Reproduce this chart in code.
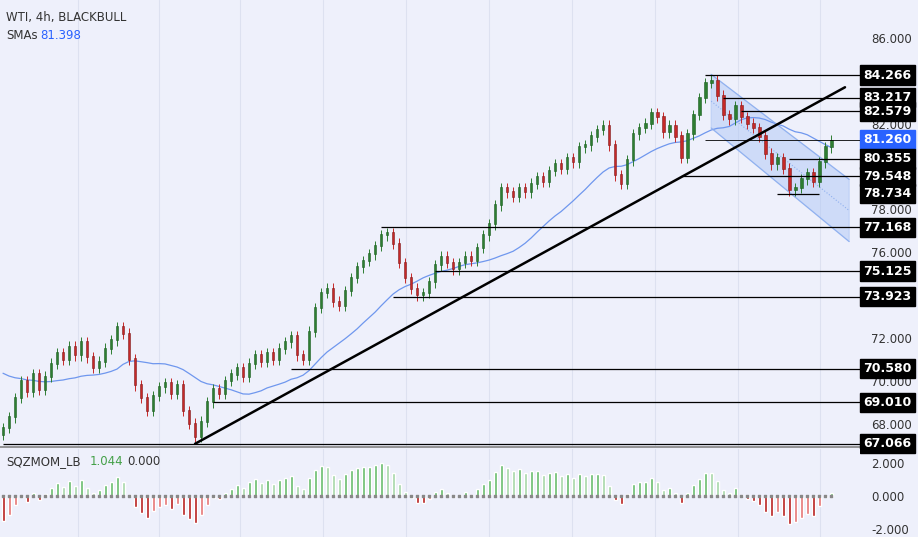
import numpy as np, pandas as pd, matplotlib
matplotlib.use("Agg")
import matplotlib.pyplot as plt, seaborn as sns
from matplotlib.transforms import blended_transform_factory as btf

closes = [67.8,68.3,69.2,70.0,69.5,70.3,69.6,70.2,70.8,71.3,71.0,71.6,71.2,71.8,71.1,70.6,70.9,71.5,71.9,72.5,
          72.2,71.0,69.8,69.2,68.6,69.3,69.7,69.9,69.4,69.8,68.6,68.0,67.4,68.1,69.0,69.6,69.4,70.0,70.3,70.6,
          70.2,70.8,71.2,70.9,71.3,71.0,71.5,71.8,72.1,71.2,71.0,72.3,73.4,74.1,74.3,73.7,73.5,74.2,74.8,75.3,
          75.6,75.9,76.3,76.8,76.9,76.4,75.5,74.8,74.3,74.0,74.1,74.6,75.4,75.8,75.5,75.2,75.5,75.8,75.6,76.2,
          76.8,77.3,78.2,79.0,78.8,78.6,79.0,78.8,79.2,79.5,79.3,79.8,80.1,79.9,80.4,80.2,80.9,81.0,81.4,81.7,
          81.9,81.0,79.6,79.2,80.3,81.5,81.8,82.0,82.5,82.3,81.6,81.9,81.4,80.4,81.5,82.4,83.2,83.9,84.0,83.3,
          82.4,82.2,82.8,82.3,82.0,81.8,81.4,80.6,80.1,80.4,79.9,78.9,79.0,79.4,79.7,79.3,80.2,80.9,81.2]
sma_prefix = [71.0,70.9,70.8,70.8,70.7,70.7,70.6,70.6,70.5,70.5,70.4,70.4,70.4,70.3,70.3,70.3,70.3,70.3,70.3,70.3]
levels = [84.266,83.217,82.579,81.260,80.355,79.548,78.734,77.168,75.125,73.923,70.580,69.010,67.066]
level_start = [117,120,123,117,131,113,129,63,72,65,48,35,0]
level_end = [142.8,142.8,142.8,142.8,142.8,142.8,136,142.8,142.8,142.8,142.8,142.8,142.8]
trend = ([32, 140.3], [67.07, 83.7])
chan_up = ([118, 141], [84.3, 79.4])
chan_lo = ([118, 141], [81.8, 76.5])
tick_vals = [68, 70, 72, 76, 78, 82, 86]
grid_x = [12.5, 26, 39.5, 53.3, 67.2, 81, 94.8, 108.6, 122.4, 136.2]

BG = "#eef0fb"
sns.set_theme(style="white")
plt.rcParams['font.family'] = ['DejaVu Sans']
fig = plt.figure(figsize=(9.18, 5.37), dpi=100, facecolor=BG)
ax = fig.add_axes([0, 90/537, 860/918, 447/537], facecolor=BG)
ax2 = fig.add_axes([0, 0, 860/918, 88/537], facecolor=BG)

n = len(closes)
idx = np.arange(n)
c = np.array(closes)
o = np.r_[c[0] - 0.3, c[:-1]]
hi = np.maximum(o, c) + 0.25
lo = np.minimum(o, c) - 0.25
up = c >= o
col = np.where(up, "#2e7d32", "#c62828")
ax.vlines(idx, lo, hi, colors=col, lw=0.7, zorder=3)
ax.bar(idx, np.abs(c - o) + 0.05, bottom=np.minimum(o, c), width=0.45, color=col,
       edgecolor=np.where(up, "#1b5e20", "#7f1d1d"), lw=0.4, zorder=4)

full = pd.Series(sma_prefix + closes)
sma = full.rolling(20).mean().iloc[20:].values
sns.lineplot(x=idx, y=sma, ax=ax, color="#6f97ee", lw=0.9, zorder=2)

ax.fill(chan_up[0] + chan_lo[0][::-1], chan_up[1] + chan_lo[1][::-1], color="#a9c3f5", alpha=0.45, zorder=1)
ax.plot(chan_up[0], chan_up[1], color="#8fb0ef", lw=0.8)
ax.plot(chan_lo[0], chan_lo[1], color="#8fb0ef", lw=0.8)
ax.plot(chan_up[0], [(a + b) / 2 for a, b in zip(chan_up[1], chan_lo[1])], color="#8fb0ef", lw=0.8, ls=":")
ax.plot(*trend, color="black", lw=1.8, zorder=5)

tr = btf(ax.transAxes, ax.transData)
for lv, s, e in zip(levels, level_start, level_end):
    ax.hlines(lv, s, e, color="black", lw=0.9 if lv != 81.260 else 0.6, zorder=5)
    fc = "#2962ff" if lv == 81.260 else "black"
    ax.text(1.004, lv, f"{lv:.3f}", transform=tr, ha="left", va="center", color="white",
            fontsize=9, fontweight="bold", clip_on=False,
            bbox=dict(boxstyle="square,pad=0.25", fc=fc, ec=fc))

ax.set_xlim(-0.5, 142.8)
ax.set_ylim(66.92, 87.77)
for xv in grid_x:
    ax.axvline(xv, color="#dde1f0", lw=0.8, zorder=0)
    ax2.axvline(xv, color="#dde1f0", lw=0.8, zorder=0)
ax.yaxis.tick_right()
ax.set_yticks(tick_vals)
ax.set_yticklabels([f"{v:.3f}" for v in tick_vals], fontsize=8.5, color="#333333")
ax.tick_params(axis="y", length=0, pad=8)
ax.set_xticks([])
for s in ax.spines.values():
    s.set_visible(False)
ax.spines["bottom"].set_visible(True); ax.spines["bottom"].set_color("#888888")
ax.text(0.007, 0.975, "WTI, 4h, BLACKBULL", transform=ax.transAxes, fontsize=8.5, color="#333333", va="top")
ax.text(0.007, 0.935, "SMAs", transform=ax.transAxes, fontsize=8.5, color="#333333", va="top")
ax.text(0.047, 0.935, "81.398", transform=ax.transAxes, fontsize=8.5, color="#2962ff", va="top")

mom = (c - sma) * 0.6
mcol = []
for i, m in enumerate(mom):
    prev = mom[i - 1] if i else m
    if m >= 0:
        mcol.append("#66bb6a" if m >= prev else "#a5d6a7")
    else:
        mcol.append("#b71c1c" if m <= prev else "#e57373")
ax2.bar(idx, mom, width=0.5, color=mcol, zorder=3)
ax2.scatter(idx, np.zeros(n), s=4, color="#888888", marker="s", zorder=4)
ax2.set_xlim(-0.5, 142.8)
ax2.set_ylim(-2.48, 2.85)
ax2.yaxis.tick_right()
ax2.set_yticks([-2, 0, 2])
ax2.set_yticklabels(["-2.000", "0.000", "2.000"], fontsize=8.5, color="#333333")
ax2.tick_params(axis="y", length=0, pad=8)
ax2.set_xticks([])
for s in ax2.spines.values():
    s.set_visible(False)
ax2.text(0.007, 0.93, "SQZMOM_LB", transform=ax2.transAxes, fontsize=8.5, color="#333333", va="top")
ax2.text(0.104, 0.93, "1.044", transform=ax2.transAxes, fontsize=8.5, color="#43a047", va="top")
ax2.text(0.148, 0.93, "0.000", transform=ax2.transAxes, fontsize=8.5, color="#333333", va="top")
fig.savefig("out.png", dpi=100, facecolor=BG)
